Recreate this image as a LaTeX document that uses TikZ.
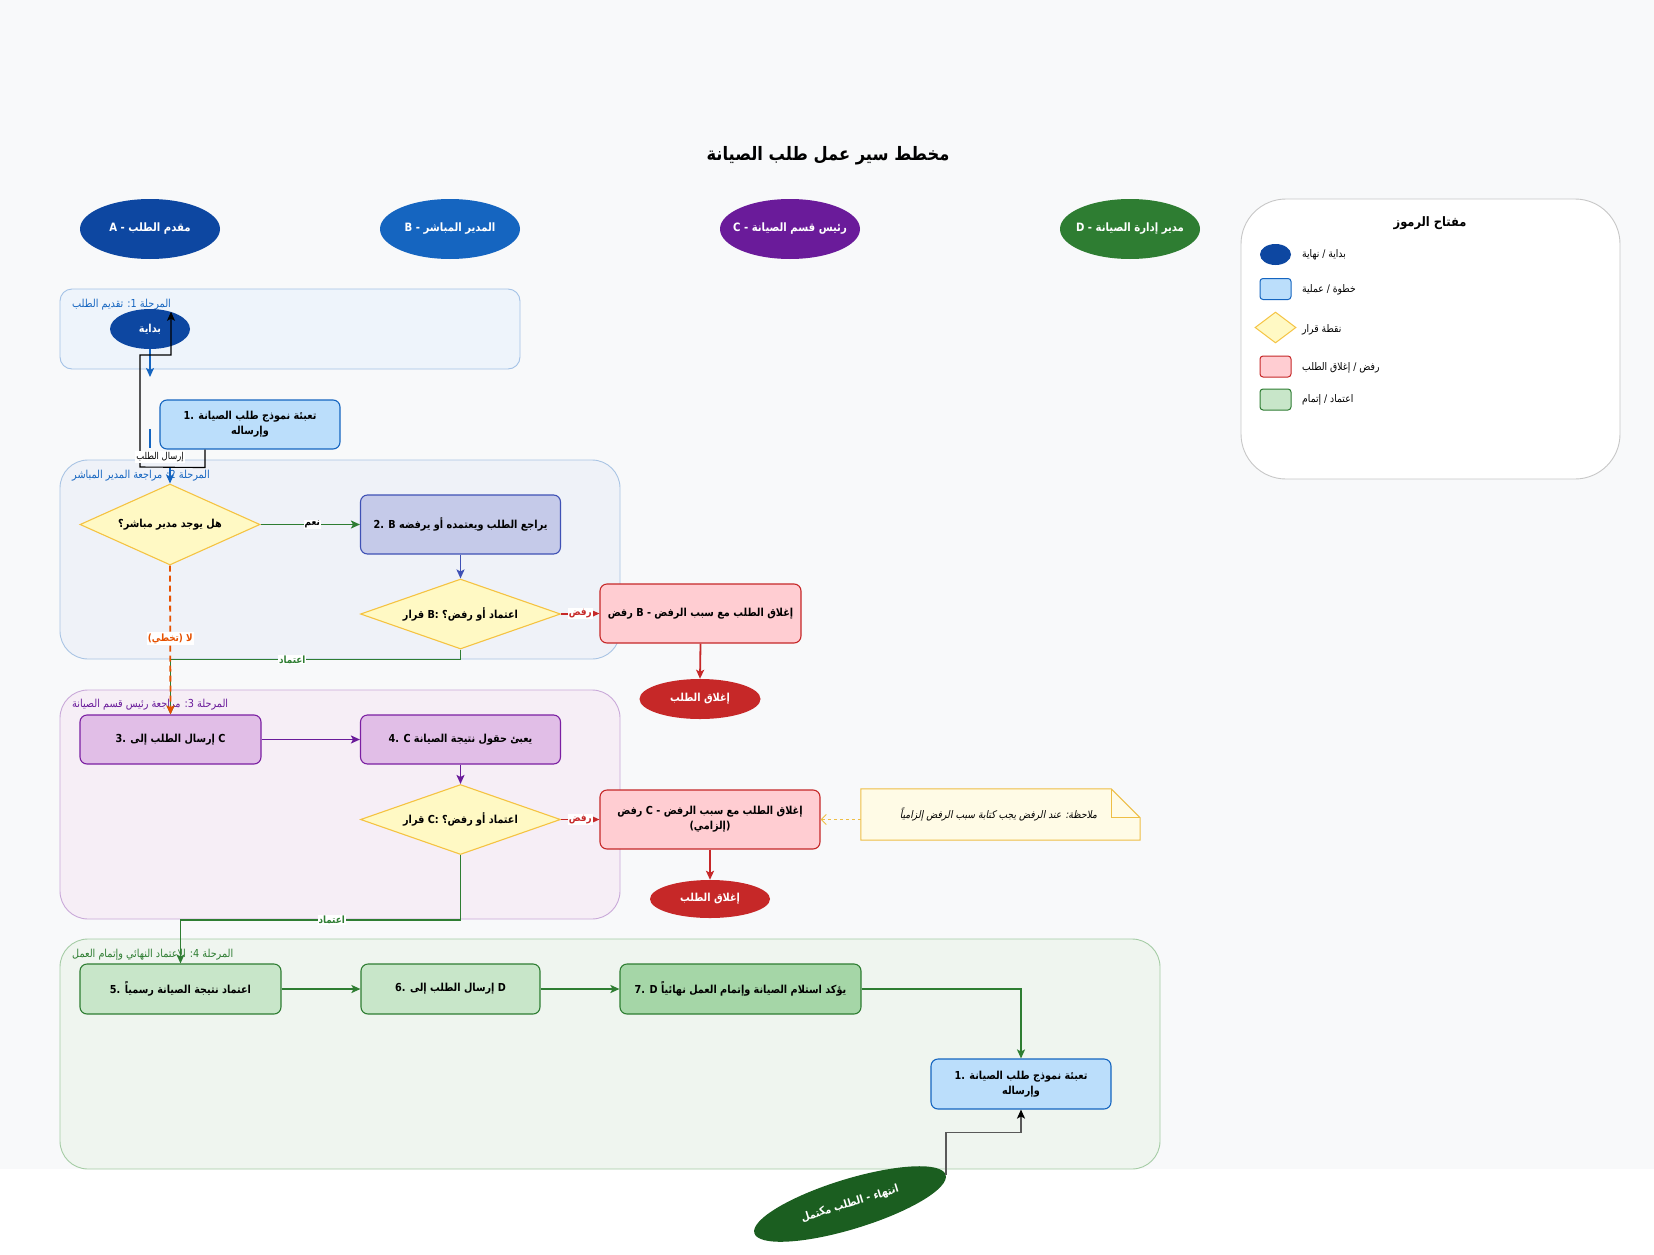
\documentclass[tikz,border=0pt]{standalone}
\usepackage{fontspec}
\setmainfont[FakeStretch=0.88]{DejaVu Sans}
\newfontfamily\arf[Script=Arabic,FakeStretch=0.88]{DejaVu Sans}
\newfontfamily\notefont[Script=Arabic,FakeSlant=0.2,FakeStretch=0.88]{DejaVu Sans}
\usetikzlibrary{shapes.geometric,arrows.meta,calc}
\TeXXeTstate=1
\newcommand{\artx}[1]{\beginR{\arf #1}\endR}
\newcommand{\artxit}[1]{\beginR{\notefont #1}\endR}
\definecolor{bgc}{HTML}{F8F9FA}
\definecolor{cA}{HTML}{0D47A1}
\definecolor{cB}{HTML}{1565C0}
\definecolor{cC}{HTML}{6A1B9A}
\definecolor{cD}{HTML}{2E7D32}
\definecolor{blueF}{HTML}{BBDEFB}
\definecolor{indF}{HTML}{C5CAE9}
\definecolor{indS}{HTML}{3F51B5}
\definecolor{decF}{HTML}{FFF9C4}
\definecolor{decS}{HTML}{F5C342}
\definecolor{redF}{HTML}{FFCDD2}
\definecolor{redS}{HTML}{C62828}
\definecolor{purF}{HTML}{E1BEE7}
\definecolor{purS}{HTML}{7B1FA2}
\definecolor{grnF}{HTML}{C8E6C9}
\definecolor{grnF2}{HTML}{A5D6A7}
\definecolor{darkG}{HTML}{1B5E20}
\definecolor{orng}{HTML}{E65100}
\definecolor{noteF}{HTML}{FFFBE6}
\definecolor{noteS}{HTML}{EEBE45}
\definecolor{p1F}{HTML}{EEF4FB}
\definecolor{p1S}{HTML}{A4C2E6}
\definecolor{p2F}{HTML}{EFF2F8}
\definecolor{p2S}{HTML}{A9C4E4}
\definecolor{p3F}{HTML}{F6EEF6}
\definecolor{p3S}{HTML}{C9A9D9}
\definecolor{p4F}{HTML}{EFF5EF}
\definecolor{p4S}{HTML}{A5CCA5}
\tikzset{
  lane/.style={ellipse, minimum width=140pt, minimum height=60pt, inner sep=0pt},
  lanetxt/.style={text=white, inner sep=0pt, font=\bfseries\fontsize{11.5}{13}\selectfont},
  term/.style={ellipse, inner sep=0pt, text=white, font=\bfseries\fontsize{11}{13}\selectfont},
  proc/.style={rectangle, rounded corners=7pt, draw, line width=1.1pt, inner sep=2pt, align=center, font=\bfseries\fontsize{11}{15}\selectfont},
  dec/.style={diamond, draw=decS, fill=decF, line width=1.1pt, inner sep=0pt, font=\bfseries\fontsize{11}{13}\selectfont},
  phase/.style={rectangle, rounded corners=28pt, line width=0.9pt, inner sep=0pt},
  phlabel/.style={anchor=west, inner sep=0pt, font=\fontsize{11}{13}\selectfont},
  arr/.style={-{Stealth[length=9pt,width=8pt,inset=2pt]}},
  edge/.style={line width=1.8pt},
  elabel/.style={fill=white, inner sep=1pt, font=\bfseries\fontsize{10}{12}\selectfont},
  legtxt/.style={anchor=west, inner sep=0pt, font=\fontsize{10.5}{12}\selectfont},
  legsym/.style={rectangle, rounded corners=3pt, line width=1pt, minimum width=31pt, minimum height=21pt, inner sep=0pt},
}
\begin{document}
\begin{tikzpicture}[x=1pt,y=-1pt]
\useasboundingbox (0,0) rectangle (1654,1255);
\fill[white] (0,0) rectangle (1654,1255);
\fill[bgc] (0,0) rectangle (1654,1169);

% phase containers
\node[phase, rounded corners=12pt, draw=p1S, fill=p1F, minimum width=460pt, minimum height=80pt] (p1) at (290,329) {};
\node[phase, draw=p2S, fill=p2F, minimum width=560pt, minimum height=199pt] (p2) at (340,559.5) {};
\node[phase, draw=p3S, fill=p3F, minimum width=560pt, minimum height=229pt] (p3) at (340,804.5) {};
\node[phase, draw=p4S, fill=p4F, minimum width=1100pt, minimum height=230pt] (p4) at (610,1054) {};
\node[phlabel, text=cB] (p1l) at (72,305) {\artx{المرحلة 1: تقديم الطلب}};
\node[phlabel, text=cB] (p2l) at (72,476) {\artx{المرحلة 2: مراجعة المدير المباشر}};
\node[phlabel, text=cC] (p3l) at (72,705) {\artx{المرحلة 3: مراجعة رئيس قسم الصيانة}};
\node[phlabel, text=cD] (p4l) at (72,955) {\artx{المرحلة 4: الاعتماد النهائي وإتمام العمل}};

% title and lanes
\node[font=\bfseries\fontsize{18.5}{22}\selectfont] (ttl) at (828,156) {\artx{مخطط سير عمل طلب الصيانة}};
\node[lane, fill=cA] (la) at (150,229) {};
\node[lanetxt] (lat) at (la.center) {A - \beginR{\arf مقدم الطلب}\endR};
\node[lane, fill=cB] (lb) at (450,229) {};
\node[lanetxt] (lbt) at (lb.center) {B - \beginR{\arf المدير المباشر}\endR};
\node[lane, fill=cC] (lc) at (790,229) {};
\node[lanetxt] (lct) at (lc.center) {C - \beginR{\arf رئيس قسم الصيانة}\endR};
\node[lane, fill=cD] (ld) at (1130,229) {};
\node[lanetxt] (ldt) at (ld.center) {D - \beginR{\arf مدير إدارة الصيانة}\endR};

% legend
\node[rectangle, rounded corners=45pt, draw=black!22, fill=white, line width=0.9pt, minimum width=379pt, minimum height=280pt] (leg) at (1430.5,339) {};
\node[font=\bfseries\fontsize{13}{15}\selectfont] (legt) at (1430,223) {\artx{مفتاح الرموز}};
\node[ellipse, fill=cA, minimum width=31pt, minimum height=21pt, inner sep=0pt] (lg1) at (1275.5,254.5) {};
\node[legtxt] (lg1t) at (1302,255) {\artx{بداية / نهاية}};
\node[legsym, draw=cB, fill=blueF] (lg2) at (1275.5,289) {};
\node[legtxt] (lg2t) at (1302,290) {\artx{خطوة / عملية}};
\node[diamond, draw=decS, fill=decF, line width=1pt, minimum width=41pt, minimum height=31pt, shape aspect=1.32, inner sep=0pt] (lg3) at (1275.5,327.5) {};
\node[legtxt] (lg3t) at (1302,330) {\artx{نقطة قرار}};
\node[legsym, draw=redS, fill=redF] (lg4) at (1275.5,366.5) {};
\node[legtxt] (lg4t) at (1302,368) {\artx{رفض / إغلاق الطلب}};
\node[legsym, draw=cD, fill=grnF] (lg5) at (1275.5,399.5) {};
\node[legtxt] (lg5t) at (1302,400) {\artx{اعتماد / إتمام}};

% phase 1
\node[term, fill=cA, minimum width=80pt, minimum height=40pt] (start) at (150,329) {\artx{بداية}};
\node[proc, draw=cB, fill=blueF, minimum width=180pt, minimum height=49pt] (b1) at (250,424.5) {1. \artx{تعبئة نموذج طلب الصيانة}\\\artx{وإرساله}};

% phase 2
\node[dec, minimum width=180pt, minimum height=81pt, shape aspect=2.2] (d1) at (170,524.5) {\artx{هل يوجد مدير مباشر؟}};
\node[proc, draw=indS, fill=indF, minimum width=200pt, minimum height=59pt] (b2) at (460.5,524.5) {2. B \artx{يراجع الطلب ويعتمده أو يرفضه}};
\node[dec, minimum width=200pt, minimum height=70pt, shape aspect=2.86] (dB) at (460.5,614) {\artx{قرار} B: \artx{اعتماد أو رفض؟}};
\node[proc, draw=redS, fill=redF, minimum width=201pt, minimum height=59pt] (rB) at (700.5,613.5) {\artx{رفض} B - \artx{إغلاق الطلب مع سبب الرفض}};
\node[term, fill=redS, minimum width=121pt, minimum height=40pt] (cl1) at (700,699) {\artx{إغلاق الطلب}};

% phase 3
\node[proc, draw=purS, fill=purF, minimum width=181pt, minimum height=49pt] (b3) at (170.5,739.5) {3. \artx{إرسال الطلب إلى} C};
\node[proc, draw=purS, fill=purF, minimum width=200pt, minimum height=49pt] (b4) at (460.5,739.5) {4. C \artx{يعبئ حقول نتيجة الصيانة}};
\node[dec, minimum width=200pt, minimum height=70pt, shape aspect=2.86] (dC) at (460.5,819.5) {\artx{قرار} C: \artx{اعتماد أو رفض؟}};
\node[proc, draw=redS, fill=redF, minimum width=220pt, minimum height=59pt] (rC) at (710,819.5) {\artx{رفض} C - \artx{إغلاق الطلب مع سبب الرفض}\\(\artx{إلزامي})};
\node[term, fill=redS, minimum width=120pt, minimum height=38pt] (cl2) at (710,899) {\artx{إغلاق الطلب}};
\node[minimum width=279pt, minimum height=51pt, inner sep=0pt] (note) at (1000.5,814.5) {};
\draw[draw=noteS, fill=noteF, line width=1pt] (note.north west) -- ([xshift=-29pt]note.north east) -- ([yshift=-29pt]note.north east) -- (note.south east) -- (note.south west) -- cycle;
\draw[draw=noteS, line width=1pt] ([xshift=-29pt]note.north east) -- ([xshift=-29pt,yshift=-29pt]note.north east) -- ([yshift=-29pt]note.north east);
\node[inner sep=0pt, font=\fontsize{10.5}{12}\selectfont] (notet) at ([xshift=-2pt]note.center) {\artxit{ملاحظة: عند الرفض يجب كتابة سبب الرفض إلزامياً}};

% phase 4
\node[proc, draw=cD, fill=grnF, minimum width=201pt, minimum height=50pt] (b5) at (180.5,989) {5. \artx{اعتماد نتيجة الصيانة رسمياً}};
\node[proc, draw=cD, fill=grnF, minimum width=179pt, minimum height=50pt] (b6) at (450.5,989) {6. \artx{إرسال الطلب إلى} D};
\node[proc, draw=cD, fill=grnF2, minimum width=241pt, minimum height=50pt] (b7) at (740.5,989) {7. D \artx{يؤكد استلام الصيانة وإتمام العمل نهائياً}};
\node[proc, draw=cB, fill=blueF, minimum width=180pt, minimum height=50pt] (b1d) at (1021,1084) {1. \artx{تعبئة نموذج طلب الصيانة}\\\artx{وإرساله}};
\node[term, fill=darkG, minimum width=200pt, minimum height=50pt, rotate=17] (endn) at (850,1204) {\artx{انتهاء - الطلب مكتمل}};

% connectors
\coordinate (bs0) at (150,377);
\coordinate (bs1) at (150,429);
\coordinate (bs2) at (150,448);
\coordinate (bs3) at (170,468);
\draw[edge, draw=cB, arr] (start.south) -- (bs0);
\draw[edge, draw=cB] (bs1) -- (bs2);
\draw[edge, draw=cB, arr] (bs3) -- (d1.north);
\draw[line width=1.1pt, arr] ([xshift=-45pt]b1.south) -- ++(0,18) -- (140,467) -- (140,355) -- (171,355) -- ([xshift=21pt,yshift=-3pt]start.north);
\node[fill=white, inner sep=1pt, font=\fontsize{9.5}{11}\selectfont] (sendl) at (160,457) {\artx{إرسال الطلب}};

\draw[edge, draw=cD, arr] (d1.east) -- (b2.west) node[elabel, pos=0.52, text=black] {\artx{نعم}};
\draw[edge, draw=indS, arr] (b2.south) -- (dB.north);
\draw[edge, draw=redS, arr] (dB.east) -- (rB.west) node[elabel, pos=0.5, text=redS] {\artx{رفض}};
\draw[edge, draw=redS, arr] (rB.south) -- (cl1.north);
\draw[edge, draw=cD, arr] (dB.south) -- ++(0,10) coordinate (t1) -- (t1 -| b3.north) node[elabel, pos=0.58, text=cD] {\artx{اعتماد}} -- (b3.north);
\draw[edge, draw=orng, dashed, dash pattern=on 6pt off 4pt, arr] (d1.south) -- (b3.north) node[elabel, pos=0.49, text=orng] {(\artx{تخطي}) \artx{لا}};
\draw[edge, draw=cC, arr] (b3.east) -- (b4.west);
\draw[edge, draw=cC, arr] (b4.south) -- (dC.north);
\draw[edge, draw=redS, arr] (dC.east) -- (rC.west) node[elabel, pos=0.5, text=redS] {\artx{رفض}};
\draw[edge, draw=redS, arr] (rC.south) -- (cl2.north);
\draw[line width=1pt, draw=noteS, dashed, -{Straight Barb[length=5pt,width=10pt]}] (note.west |- rC.east) -- (rC.east);
\draw[edge, draw=cD, arr] (dC.south) -- ++(0,65) coordinate (t2) -- (t2 -| b5.north) node[elabel, pos=0.46, text=cD] {\artx{اعتماد}} -- (b5.north);
\draw[edge, draw=cD, arr] (b5.east) -- (b6.west);
\draw[edge, draw=cD, arr] (b6.east) -- (b7.west);
\draw[edge, draw=cD, arr] (b7.east) -| (b1d.north);
\draw[line width=1.5pt, draw=black!65, -{Stealth[length=9pt,width=8pt,inset=2pt,black]}] (endn.east) |- ([yshift=-23pt]b1d.south) -- (b1d.south);
\end{tikzpicture}
\end{document}
